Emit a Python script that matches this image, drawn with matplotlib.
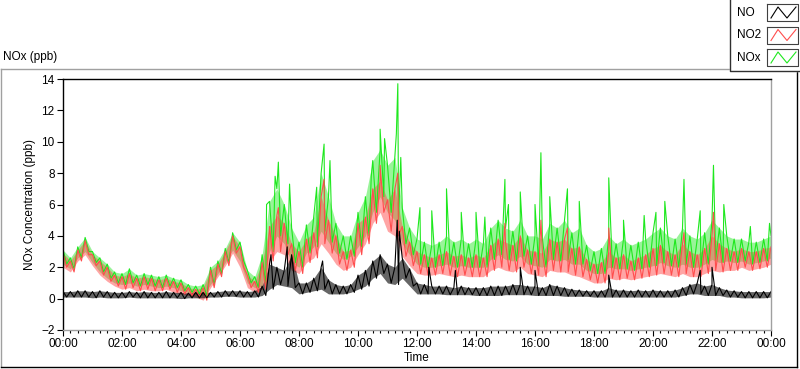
import numpy as np
import matplotlib
matplotlib.use("Agg")
from matplotlib import pyplot as plt
from matplotlib.ticker import MultipleLocator, FuncFormatter

plt.rcParams['font.family'] = ['Liberation Sans', 'DejaVu Sans']

# 15-minute bins from 00:00 to 24:00 (97 values); upper / lower envelope
nox_hi = [3.1, 2.6, 3.3, 3.9, 3.0, 2.6, 2.2, 1.7, 1.6, 1.9, 1.5, 1.6,
          1.5, 1.4, 1.5, 1.3, 1.2, 0.9, 0.8, 0.9, 2.0, 2.4, 3.2, 4.2,
          3.6, 1.8, 1.4, 2.8, 6.2, 7.0, 6.0, 4.5, 3.6, 4.7, 5.2, 8.0,
          6.5, 4.8, 4.0, 4.0, 5.5, 6.5, 8.8, 9.5, 8.5, 9.0, 5.8, 4.5,
          3.8, 3.6, 3.4, 3.6, 4.0, 3.6, 3.8, 3.5, 3.8, 3.5, 4.5, 5.0,
          4.5, 4.3, 5.0, 4.0, 4.0, 3.8, 4.8, 4.5, 5.0, 4.2, 4.5, 3.4,
          3.0, 3.2, 4.0, 3.5, 3.8, 3.4, 3.6, 3.8, 4.2, 4.5, 4.0, 3.8,
          4.5, 4.0, 3.8, 4.2, 5.0, 4.5, 4.0, 3.8, 3.8, 3.6, 3.6, 3.8, 4.0]
nox_lo = [2.2, 1.9, 2.6, 3.0, 2.3, 1.7, 1.3, 1.0, 0.9, 1.0, 0.8, 0.9,
          0.8, 0.7, 0.8, 0.7, 0.5, 0.4, 0.3, 0.2, 0.9, 1.6, 2.3, 3.1,
          2.4, 1.0, 0.7, 0.8, 3.0, 4.0, 3.5, 2.3, 2.0, 2.9, 3.3, 4.3,
          3.6, 2.9, 2.5, 2.7, 3.3, 4.0, 5.5, 6.5, 5.5, 5.0, 3.5, 2.8,
          2.2, 2.0, 2.0, 2.1, 2.2, 2.0, 2.1, 2.0, 2.0, 2.0, 2.5, 2.8,
          2.5, 2.4, 2.7, 2.2, 2.1, 2.0, 2.5, 2.4, 2.5, 2.2, 2.2, 1.8,
          1.6, 1.6, 2.0, 1.9, 1.9, 1.8, 1.9, 2.0, 2.1, 2.3, 2.1, 2.0,
          2.2, 2.0, 2.0, 2.2, 2.5, 2.3, 2.4, 2.3, 2.4, 2.2, 2.3, 2.4, 2.6]
no2_hi = [2.9, 2.4, 3.1, 3.7, 2.8, 2.4, 2.0, 1.5, 1.4, 1.6, 1.3, 1.4,
          1.3, 1.2, 1.3, 1.1, 1.0, 0.7, 0.6, 0.7, 1.8, 2.2, 3.0, 4.0,
          3.3, 1.5, 1.1, 2.3, 4.6, 5.3, 4.8, 3.5, 3.0, 3.8, 4.2, 6.5,
          5.0, 4.0, 3.0, 3.1, 4.8, 5.2, 7.0, 7.5, 6.3, 7.0, 4.6, 3.6,
          3.0, 2.8, 2.6, 2.8, 3.0, 2.7, 2.8, 2.6, 2.8, 2.6, 3.4, 3.8,
          3.6, 3.4, 4.0, 3.1, 3.0, 2.9, 3.8, 3.6, 3.8, 3.2, 3.3, 2.5,
          2.2, 2.3, 3.0, 2.6, 2.8, 2.4, 2.6, 2.8, 3.2, 3.4, 3.0, 2.8,
          3.5, 3.0, 2.8, 3.2, 4.0, 3.5, 3.2, 3.0, 3.2, 3.0, 3.0, 3.2, 3.3]
no2_lo = [2.0, 1.7, 2.4, 2.8, 2.1, 1.5, 1.1, 0.8, 0.6, 0.7, 0.5, 0.6,
          0.5, 0.5, 0.6, 0.4, 0.3, 0.2, 0.1, -0.1, 0.7, 1.4, 2.1, 2.9,
          2.0, 0.7, 0.4, 0.6, 2.4, 3.0, 2.8, 1.8, 1.6, 2.3, 2.6, 3.5,
          2.9, 2.2, 1.8, 2.0, 2.8, 3.5, 4.8, 5.5, 4.3, 4.0, 2.7, 2.1,
          1.6, 1.5, 1.5, 1.6, 1.5, 1.4, 1.5, 1.4, 1.4, 1.4, 1.8, 2.0,
          1.8, 1.7, 2.0, 1.6, 1.5, 1.4, 1.8, 1.7, 1.7, 1.5, 1.4, 1.2,
          1.0, 1.0, 1.3, 1.2, 1.3, 1.2, 1.3, 1.4, 1.5, 1.6, 1.5, 1.4,
          1.6, 1.4, 1.4, 1.6, 1.8, 1.7, 1.8, 1.8, 2.0, 1.8, 1.9, 2.0, 2.2]
no_hi = [0.45, 0.45, 0.5, 0.5, 0.45, 0.5, 0.45, 0.4, 0.4, 0.45, 0.4, 0.45,
         0.4, 0.4, 0.45, 0.4, 0.4, 0.35, 0.4, 0.4, 0.4, 0.45, 0.5, 0.5,
         0.5, 0.45, 0.5, 0.8, 2.2, 2.0, 1.8, 2.8, 1.0, 1.0, 1.3, 2.0,
         1.2, 0.9, 0.8, 0.9, 1.5, 1.8, 2.4, 2.8, 2.2, 2.0, 2.6, 1.9,
         1.0, 0.9, 0.8, 0.8, 0.8, 0.7, 0.8, 0.7, 0.7, 0.7, 0.8, 0.8,
         0.8, 0.9, 0.9, 0.8, 0.8, 0.7, 0.9, 0.8, 0.7, 0.6, 0.55, 0.5,
         0.5, 0.5, 0.7, 0.55, 0.55, 0.5, 0.55, 0.5, 0.55, 0.5, 0.5, 0.55,
         0.7, 0.9, 1.0, 0.8, 0.9, 0.7, 0.55, 0.5, 0.45, 0.45, 0.45, 0.45, 0.45]
no_lo = [0.1, 0.1, 0.1, 0.1, 0.05, 0.1, 0.05, 0.05, 0.05, 0.1, 0.05, 0.05,
         0.05, 0.05, 0.05, 0.05, 0.0, 0.05, 0.05, 0.05, 0.1, 0.1, 0.15, 0.15,
         0.1, 0.1, 0.1, 0.2, 0.6, 0.9, 0.8, 0.7, 0.3, 0.4, 0.5, 0.6,
         0.3, 0.3, 0.3, 0.4, 0.6, 0.8, 1.3, 1.6, 1.0, 0.9, 1.3, 0.8,
         0.3, 0.3, 0.3, 0.3, 0.25, 0.25, 0.25, 0.25, 0.2, 0.2, 0.2, 0.2,
         0.25, 0.25, 0.25, 0.25, 0.2, 0.2, 0.2, 0.2, 0.15, 0.15, 0.15, 0.15,
         0.1, 0.1, 0.1, 0.1, 0.1, 0.1, 0.1, 0.1, 0.1, 0.1, 0.1, 0.1,
         0.2, 0.3, 0.3, 0.2, 0.2, 0.2, 0.1, 0.1, 0.05, 0.05, 0.05, 0.05, 0.1]

# isolated spikes (hour, ppb)
nox_spike_t = [6.9, 7.19, 7.3, 7.68, 8.6, 8.85, 9.05, 10.45, 10.75, 10.9, 11.3, 11.35, 11.45,
               12.1, 12.5, 13.0, 13.5, 14.0, 14.3, 14.98, 15.1, 15.5, 16.0, 16.2, 16.5, 17.1,
               17.5, 18.5, 19.0, 19.7, 20.1, 20.4, 21.05, 21.6, 22.05, 22.4, 23.3, 23.95]
nox_spike_v = [6.0, 7.8, 8.7, 7.3, 7.1, 9.85, 8.8, 7.8, 10.8, 10.2, 10.5, 13.7, 9.0,
               5.8, 5.6, 7.0, 5.5, 5.5, 5.2, 7.6, 6.0, 6.8, 6.0, 9.3, 6.5, 7.0,
               6.2, 7.7, 5.0, 5.3, 5.5, 6.2, 7.6, 5.6, 8.5, 6.0, 4.6, 4.8]
no2_spike_t = [7.3, 8.85, 10.75, 11.35, 14.98, 16.2, 17.1, 18.5, 21.05, 22.05]
no2_spike_v = [5.8, 7.6, 8.5, 8.0, 4.8, 5.0, 4.5, 4.5, 4.2, 5.5]
no_spike_t = [7.05, 7.6, 8.8, 11.33, 11.4, 12.4, 13.3, 15.5, 16.0, 18.5, 21.6, 22.0]
no_spike_v = [2.8, 3.3, 2.4, 5.0, 4.3, 2.0, 1.8, 2.0, 1.8, 1.5, 1.8, 2.0]

names = ['NO', 'NO2', 'NOx']
colors = ['#000000', '#ff4d4d', '#1ee81e']


def build(hi, lo, st, sv):
    t = np.arange(len(hi)) * 0.25
    tt = np.concatenate([t, t[:-1] + 0.125, st])
    vv = np.concatenate([hi, lo[:-1], sv])
    order = np.argsort(tt, kind='stable')
    return tt[order], vv[order]


fig = plt.figure(figsize=(8, 3.69), dpi=100)

# outer panel frame (pixel coords overlay)
bg = fig.add_axes([0, 0, 1, 1])
bg.set_xlim(0, 800)
bg.set_ylim(369, 0)
bg.axis('off')
bg.plot([1, 797], [69, 69], color='#a0a0a0', lw=1)
bg.plot([1, 1], [69, 367], color='#a0a0a0', lw=1)
bg.plot([797, 797], [69, 367], color='black', lw=1)
bg.plot([1, 797], [367, 367], color='black', lw=1)
bg.text(3, 57, 'NOx (ppb)', fontsize=8.5, va='center', ha='left')

# legend box
bg.fill([730, 800, 800, 730], [0, 0, 71, 71], color='white', zorder=3)
bg.plot([730, 730, 800], [0, 71, 71], color='#303030', lw=1, zorder=4)
for i, (nm, c) in enumerate(zip(names, colors)):
    yc = 13 + 22.5 * i
    bg.text(737, yc, nm, fontsize=8.5, va='center', ha='left', zorder=5)
    bg.fill([767, 798, 798, 767], [yc - 9, yc - 9, yc + 8, yc + 8], color='white', zorder=5)
    bg.plot([767, 798, 798, 767, 767], [yc - 9, yc - 9, yc + 8, yc + 8, yc - 9],
            color='#404040', lw=0.8, zorder=6)
    bg.plot([771, 778, 787, 796], [yc + 5, yc - 6, yc + 5, yc - 6], color=c, lw=0.8, zorder=6)

ax = fig.add_axes([63 / 800, 1 - 330 / 369, (771 - 63) / 800, (330 - 79) / 369])
t15 = np.arange(len(nox_hi)) * 0.25
for hi, lo, st, sv, c, a in [(nox_hi, nox_lo, nox_spike_t, nox_spike_v, colors[2], 0.45),
                             (no2_hi, no2_lo, no2_spike_t, no2_spike_v, colors[1], 0.5),
                             (no_hi, no_lo, no_spike_t, no_spike_v, colors[0], 0.6)]:
    # noise band between envelopes (tinted), then the jagged trace with spikes
    ax.fill_between(t15, lo, hi, color=c, alpha=a, lw=0)
    x, y = build(hi, lo, st, sv)
    ax.plot(x, y, color=c, lw=0.8)

ax.set_xlim(0, 24)
ax.set_ylim(-2, 14)
ax.xaxis.set_major_locator(MultipleLocator(2))
ax.xaxis.set_minor_locator(MultipleLocator(0.25))
ax.yaxis.set_major_locator(MultipleLocator(2))
ax.xaxis.set_major_formatter(FuncFormatter(lambda v, p: '%02d:00' % (int(round(v)) % 24)))
ax.tick_params(axis='both', which='major', direction='out', length=4, width=0.8,
               labelsize=8.5, pad=2)
ax.tick_params(axis='x', which='minor', direction='out', length=2.5, width=0.8)
ax.spines['left'].set_color('black')
ax.spines['top'].set_color('black')
ax.spines['right'].set_color('#a0a0a0')
ax.spines['bottom'].set_color('#a0a0a0')
for s in ax.spines.values():
    s.set_linewidth(1)
ax.set_xlabel('Time', fontsize=8.5, labelpad=1)
ax.set_ylabel('NOx Concentration (ppb)', fontsize=8.5, labelpad=4)

fig.savefig('out.png', dpi=100)
